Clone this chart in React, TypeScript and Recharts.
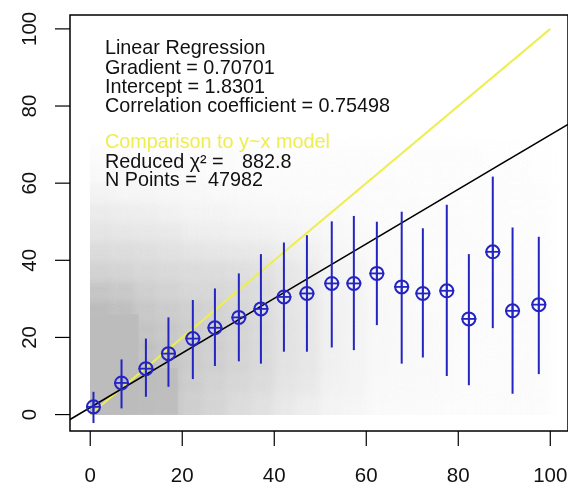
import React from 'react';
import { ScatterChart, Scatter, XAxis, YAxis, ErrorBar, ReferenceLine, ReferenceArea, ReferenceDot, Label } from 'recharts';

const xTicks = [0, 20, 40, 60, 80, 100];
const yTicks = [0, 20, 40, 60, 80, 100];

// binned means with their spread
const binX = [0.7, 6.8, 12.1, 17.0, 22.3, 27.1, 32.3, 37.1, 42.1, 47.1, 52.5, 57.3, 62.3, 67.7, 72.3, 77.5, 82.3, 87.5, 91.8, 97.5];
const binMean = [2.0, 8.2, 11.9, 15.8, 19.7, 22.5, 25.2, 27.4, 30.5, 31.4, 34.0, 34.0, 36.6, 33.1, 31.4, 32.1, 24.8, 42.2, 26.9, 28.5];
const binLow = [-2.2, 1.6, 4.6, 7.2, 9.2, 12.6, 13.8, 13.2, 16.3, 16.3, 17.4, 16.7, 23.2, 13.2, 14.8, 10.0, 7.6, 22.4, 5.4, 10.5];
const binHigh = [5.9, 14.3, 19.7, 25.2, 29.7, 32.7, 36.6, 41.6, 44.6, 46.5, 50.1, 51.5, 50.0, 52.6, 48.3, 54.4, 41.6, 61.7, 48.5, 46.1];

const gradient = 0.70701;
const intercept = 1.8301;

const fitLines = ['Linear Regression', 'Gradient = 0.70701', 'Intercept = 1.8301', 'Correlation coefficient = 0.75498'];
const modelTitle = 'Comparison to y~x model';
const chiLabel = 'Reduced χ² =';
const chiSquared = '882.8';
const nLabel = 'N Points =';
const nPoints = '47982';

// saturated blocks of raw points near the origin: [x1, x2, y1, y2, coverage]
const coreBlocks = [
  [0, 10.5, 0, 26, 1],
  [10.5, 19, 0, 12, 0.8],
];

// density of the rest of the raw point cloud, 5x5 cells, rows from y=0 up, columns x=0..100
const cloudStep = 5;
const cloudRows = [
  [1, 1, 0.9, 0.85, 0.7, 0.62, 0.52, 0.45, 0.32, 0.26, 0.16, 0.13, 0.08, 0.07, 0.06, 0.05, 0.05, 0.05, 0.04, 0.04],
  [1, 1, 0.92, 0.88, 0.74, 0.66, 0.58, 0.52, 0.39, 0.32, 0.2, 0.16, 0.09, 0.08, 0.07, 0.06, 0.05, 0.05, 0.04, 0.04],
  [1, 1, 0.95, 0.88, 0.76, 0.7, 0.62, 0.55, 0.42, 0.36, 0.21, 0.17, 0.1, 0.08, 0.08, 0.06, 0.05, 0.05, 0.04, 0.04],
  [1, 1, 0.92, 0.86, 0.76, 0.7, 0.62, 0.55, 0.42, 0.36, 0.21, 0.17, 0.1, 0.09, 0.08, 0.06, 0.05, 0.05, 0.04, 0.04],
  [1, 1, 0.88, 0.82, 0.74, 0.7, 0.62, 0.55, 0.42, 0.36, 0.21, 0.17, 0.1, 0.09, 0.08, 0.06, 0.05, 0.05, 0.04, 0.04],
  [1, 0.95, 0.82, 0.76, 0.7, 0.66, 0.6, 0.52, 0.39, 0.34, 0.2, 0.16, 0.1, 0.08, 0.06, 0.06, 0.05, 0.05, 0.04, 0.04],
  [0.85, 0.8, 0.7, 0.65, 0.58, 0.58, 0.55, 0.5, 0.39, 0.32, 0.18, 0.16, 0.09, 0.08, 0.06, 0.05, 0.05, 0.04, 0.04, 0.04],
  [0.65, 0.62, 0.58, 0.55, 0.52, 0.5, 0.47, 0.43, 0.36, 0.28, 0.16, 0.13, 0.08, 0.06, 0.06, 0.05, 0.04, 0.04, 0.04, 0.03],
  [0.52, 0.5, 0.47, 0.43, 0.39, 0.36, 0.34, 0.31, 0.26, 0.21, 0.13, 0.1, 0.06, 0.06, 0.05, 0.04, 0.04, 0.04, 0.03, 0.03],
  [0.39, 0.36, 0.34, 0.31, 0.26, 0.23, 0.21, 0.2, 0.17, 0.13, 0.1, 0.08, 0.06, 0.05, 0.04, 0.04, 0.04, 0.03, 0.03, 0.03],
  [0.28, 0.26, 0.23, 0.2, 0.17, 0.16, 0.13, 0.12, 0.1, 0.09, 0.08, 0.06, 0.05, 0.04, 0.04, 0.04, 0.03, 0.03, 0.03, 0.03],
  [0.16, 0.14, 0.13, 0.12, 0.1, 0.09, 0.08, 0.06, 0.06, 0.05, 0.05, 0.05, 0.04, 0.04, 0.03, 0.03, 0.03, 0.03, 0.03, 0.03],
  [0.09, 0.09, 0.08, 0.06, 0.06, 0.05, 0.05, 0.05, 0.04, 0.04, 0.04, 0.04, 0.04, 0.03, 0.03, 0.03, 0.03, 0.03, 0.03, 0.02],
  [0.05, 0.05, 0.05, 0.04, 0.04, 0.04, 0.04, 0.04, 0.03, 0.03, 0.03, 0.03, 0.03, 0.03, 0.03, 0.03, 0.03, 0.02, 0.02, 0.02],
];

const xDomain = [-4.4, 103.85];
const yDomain = [-4.26, 103.6];

const BLUE = '#2424c2';
const YELLOW = '#eeee50';
const CLOUD = '#bcbcbc';
const FONT = '"Liberation Sans", Arial, Helvetica, sans-serif';

const points = binX.map((x, i) => ({
  x,
  y: binMean[i],
  err: [binMean[i] - binLow[i], binHigh[i] - binMean[i]],
}));

// cells on the x=0 / y=0 edges are doubled outwards and then cut by the filter region,
// so the cloud keeps its sharp left and bottom edges after blurring
const cells = cloudRows.flatMap((row, r) =>
  row.map((d, c) => {
    const left = c === 0;
    const bottom = r === 0;
    const id = left && bottom ? 'cloudLB' : left ? 'cloudL' : bottom ? 'cloudB' : 'cloud';
    return {
      x1: left ? -cloudStep : c * cloudStep,
      x2: (c + 1) * cloudStep,
      y1: bottom ? -cloudStep : r * cloudStep,
      y2: (r + 1) * cloudStep,
      d,
      id,
    };
  })
);

function CirclePlus(props: any) {
  const { cx, cy } = props;
  const r = 6.5;
  return (
    <g>
      <circle cx={cx} cy={cy} r={r} fill="none" stroke={BLUE} strokeWidth={2} />
      <line x1={cx - r - 1} y1={cy} x2={cx + r + 1} y2={cy} stroke={BLUE} strokeWidth={1.8} />
      <line x1={cx} y1={cy - r} x2={cx} y2={cy + r} stroke={BLUE} strokeWidth={1.8} />
    </g>
  );
}

function XTick(props: any) {
  const { x, y, payload } = props;
  return (
    <text x={x} y={y + 36} textAnchor="middle" fontSize={20.5} fontFamily={FONT} fill="#111">
      {payload.value}
    </text>
  );
}

function YTick(props: any) {
  const { x, y, payload } = props;
  const tx = x - 19;
  return (
    <text x={tx} y={y} transform={`rotate(-90, ${tx}, ${y})`} textAnchor="middle" fontSize={20.5} fontFamily={FONT} fill="#111">
      {payload.value}
    </text>
  );
}

function StatsText(props: any) {
  const { viewBox } = props;
  const x0 = viewBox.x + viewBox.width / 2;
  const y0 = viewBox.y + viewBox.height / 2;
  const lineY = [0, 19.3, 38.3, 57.6];
  return (
    <g fontFamily={FONT} fontSize={19.8} fill="#111">
      {fitLines.map((t, i) => (
        <text key={t} x={x0} y={y0 + lineY[i]}>{t}</text>
      ))}
      <text x={x0} y={y0 + 93.6} fill={YELLOW}>{modelTitle}</text>
      <text x={x0} y={y0 + 113.6}>
        {chiLabel}
        <tspan x={x0 + 137}>{chiSquared}</tspan>
      </text>
      <text x={x0} y={y0 + 132}>
        {nLabel}
        <tspan x={x0 + 103}>{nPoints}</tspan>
      </text>
    </g>
  );
}

function CloudCell(props: any) {
  const { x, y, width, height, d, id } = props;
  return (
    <rect
      x={x}
      y={y}
      width={width}
      height={height}
      fill={CLOUD}
      fillOpacity={d}
      filter={`url(#${id})`}
      style={{ mixBlendMode: 'multiply' }}
    />
  );
}

export default function App() {
  return (
    <>
      <style>{'body{margin:0;background:#fff}'}</style>
      <ScatterChart width={568} height={486} margin={{ top: 15, right: 0, bottom: 0, left: 0 }} style={{ background: '#fff' }}>
        <defs>
          <filter id="cloud" x="-80%" y="-100%" width="260%" height="300%">
            <feGaussianBlur stdDeviation="4.5" />
          </filter>
          <filter id="cloudL" x="50%" y="-100%" width="90%" height="300%">
            <feGaussianBlur stdDeviation="4.5" />
          </filter>
          <filter id="cloudB" x="-80%" y="-50%" width="260%" height="100%">
            <feGaussianBlur stdDeviation="4.5" />
          </filter>
          <filter id="cloudLB" x="50%" y="-50%" width="90%" height="100%">
            <feGaussianBlur stdDeviation="4.5" />
          </filter>
        </defs>
        <XAxis
          type="number"
          dataKey="x"
          domain={xDomain}
          ticks={xTicks}
          allowDataOverflow
          height={55}
          axisLine={false}
          tickLine={{ stroke: '#000', strokeWidth: 1.2 }}
          tickSize={15}
          tickMargin={0}
          tick={<XTick />}
        />
        <YAxis
          type="number"
          dataKey="y"
          domain={yDomain}
          ticks={yTicks}
          allowDataOverflow
          width={70}
          axisLine={false}
          tickLine={{ stroke: '#000', strokeWidth: 1.2 }}
          tickSize={15}
          tickMargin={0}
          tick={<YTick />}
        />
        <ReferenceArea x1={xDomain[0]} x2={xDomain[1]} y1={yDomain[0]} y2={yDomain[1]} fill="#fff" fillOpacity={1} stroke="none" />
        {cells.map((c) => (
          <ReferenceArea
            key={`${c.x1}-${c.y1}`}
            x1={c.x1}
            x2={c.x2}
            y1={c.y1}
            y2={c.y2}
            ifOverflow="visible"
            shape={(p: any) => <CloudCell {...p} d={c.d} id={c.id} />}
          />
        ))}
        {coreBlocks.map(([x1, x2, y1, y2, k]) => (
          <ReferenceArea key={`core-${x1}`} x1={x1} x2={x2} y1={y1} y2={y2} fill={CLOUD} fillOpacity={k} stroke="none" />
        ))}
        <ReferenceLine
          segment={[{ x: 0, y: 0 }, { x: 100, y: 100 }]}
          stroke={YELLOW}
          strokeWidth={2}
        />
        <ReferenceLine
          segment={[
            { x: xDomain[0], y: intercept + gradient * xDomain[0] },
            { x: xDomain[1], y: intercept + gradient * xDomain[1] },
          ]}
          stroke="#000"
          strokeWidth={1.5}
          ifOverflow="visible"
        />
        <Scatter data={points} shape={<CirclePlus />} isAnimationActive={false}>
          <ErrorBar dataKey="err" direction="y" width={0} stroke={BLUE} strokeWidth={2} isAnimationActive={false} />
        </Scatter>
        <ReferenceDot x={3.2} y={93.4} r={1} fill="none" stroke="none">
          <Label content={<StatsText />} />
        </ReferenceDot>
        <ReferenceArea
          x1={xDomain[0]}
          x2={xDomain[1]}
          y1={yDomain[0]}
          y2={yDomain[1]}
          fill="none"
          stroke="#000"
          strokeWidth={1.5}
        />
      </ScatterChart>
    </>
  );
}
